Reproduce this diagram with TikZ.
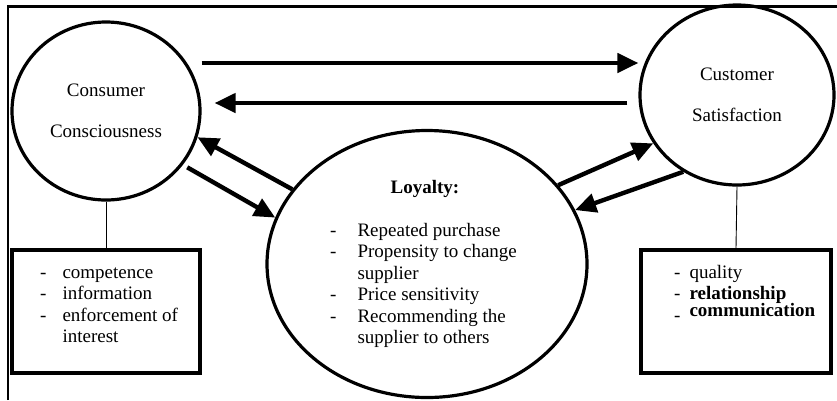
\documentclass[tikz,border=0pt]{standalone}
\usepackage{fontspec}
\setmainfont{Liberation Serif}
\usetikzlibrary{shapes.geometric,arrows.meta}
\tikzstyle{bubble}=[draw, ellipse, line width=3.2pt, inner sep=0pt, align=center, font=\fontsize{19}{21.5}\selectfont]
\tikzstyle{listbox}=[draw, rectangle, line width=4.2pt, inner sep=0pt]
\tikzstyle{listtext}=[inner sep=0pt, font=\fontsize{19}{21.5}\selectfont]
\tikzstyle{flow} = [draw, line width=4.4pt, -{Triangle[length=21pt,width=19pt]}]
\tikzstyle{link} = [draw, line width=0.9pt]
\tikzstyle{frameline} = [draw, line width=2.2pt]

\begin{document}
\begin{tikzpicture}[x=1pt, y=-1pt]
    \useasboundingbox (0,0) rectangle (837,400);
    \draw[frameline] (8,400) -- (8,6.5) -- (837,6.5);

    % the three bubbles
    \node[bubble, minimum width=188pt, minimum height=178pt] (cc) at (106,111) {Consumer\\[20pt]Consciousness};
    \node[bubble, minimum width=194pt, minimum height=180pt] (cs) at (737,95) {Customer\\[20pt]Satisfaction};
    \node[bubble, minimum width=320pt, minimum height=267pt] (loy) at (427,264) {};

    % the two boxes
    \node[listbox, minimum width=188pt, minimum height=123pt] (ccbox) at (106,311.5) {};
    \node[listbox, minimum width=190pt, minimum height=123pt] (csbox) at (736,311.5) {};

    % texts
    \node[listtext, anchor=base, font=\fontsize{19}{21.5}\selectfont\bfseries] (loytitle) at (425,193) {Loyalty:};
    \node[listtext, anchor=base west] (loylist) at (330,236) {%
        \begin{tabular}[t]{@{}l@{\hspace{21pt}}l@{}}
        - & Repeated purchase\\
        - & Propensity to change\\
          & supplier\\
        - & Price sensitivity\\
        - & Recommending the\\
          & supplier to others
        \end{tabular}};
    \node[listtext, anchor=base west] (cclist) at (40,278) {%
        \begin{tabular}[t]{@{}l@{\hspace{16pt}}l@{}}
        - & competence\\
        - & information\\
        - & enforcement of\\
          & interest
        \end{tabular}};
    \node[listtext, anchor=base west] (cslist) at (674,278) {%
        \begin{tabular}[t]{@{}l@{\hspace{9pt}}l@{}}
        - & quality\\
        - & \textbf{relationship}\\[-4.5pt]
        \raisebox{-5pt}{-} & \textbf{communication}
        \end{tabular}};

    % links to the boxes
    \path[link] (cc.south) -- (ccbox.north);
    \path[link] (cs.south) -- (csbox.north);

    % arrows
    \path[flow] ([yshift=48pt]cc.east) -- ([yshift=32pt]cs.west);
    \path[flow] ([xshift=-11pt,yshift=-8pt]cs.west) -- ([xshift=13pt,yshift=8pt]cc.east);
    \path[flow] (loy.151) -- (cc.-16);
    \path[flow, shorten <=5pt] (cc.-35) -- (loy.163);
    \path[flow] (loy.31) -- (cs.210);
    \path[flow] (cs.235) -- (loy.20);

\end{tikzpicture}
\end{document}
